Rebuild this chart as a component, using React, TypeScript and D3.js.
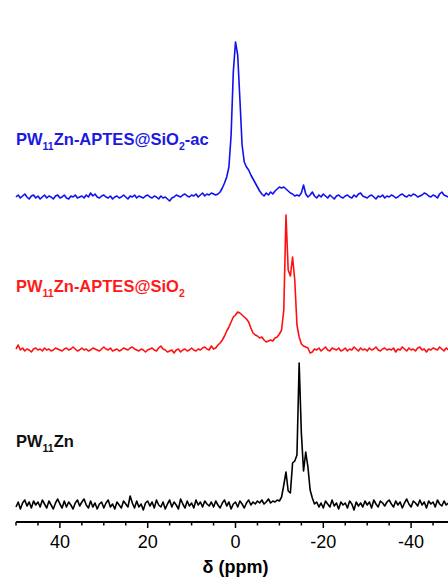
import React from "react";
import * as d3 from "d3";

// Chemical shift grid: spectra sampled every 0.5 ppm from 50 to -50 ppm
const ppmStart = 50;
const ppmStep = -0.5;

// Intensities (arbitrary units)
const blueIntensity = [
  0, 2, -1, 1, 3, 0, -2, 1, 2, -1,
  1, -2, 0, 2, -1, 1, 0, -2, 1, 2,
  -1, 0, 2, -1, -2, 1, 0, 2, -1, 0,
  1, -1, 2, 0, 4, 1, 3, 0, -1, 1,
  2, 0, -1, 1, -2, 0, 1, -1, 0, 2,
  0, -2, 1, 0, 2, -1, 1, 0, -1, 1,
  2, 0, -1, 1, 0, -2, 1, -1, 0, -2,
  -4, -1, 0, 2, 1, 0, 2, 3, 1, 0,
  2, 1, 3, 0, 2, 4, 1, 3, 2, 4,
  3, 2, 3, 5, 9, 14, 20, 30, 62, 125,
  155, 142, 98, 52, 35, 30, 27, 22, 18, 14,
  10, 6, 3, 1, 4, 2, 5, 3, 6, 8,
  10, 9, 10, 8, 6, 4, 3, 1, 2, 1,
  4, 12, 3, 0, 2, 5, 1, -1, 2, 0,
  3, 1, -1, 2, 0, -2, 1, 2, 0, -1,
  1, 2, 0, -1, 2, 0, 3, 4, 1, 0,
  -1, 1, 2, 0, -2, 1, 0, 2, -1, 1,
  0, 2, 1, -1, 0, 2, 3, 1, 0, 2,
  1, 3, 2, 0, 1, 2, 4, 3, 1, 0,
  2, 1, -1, 3, 5, 2, 1, 0, 2, 1,
  0,
];

const redIntensity = [
  1, 5, 0, 2, -1, 1, 0, -2, 1, 2,
  0, 1, -1, 2, 0, 1, -1, 0, 2, 1,
  0, -1, 1, 2, 0, 1, 3, 1, -1, 0,
  2, 0, 1, -1, 0, 2, 1, 0, -1, 1,
  3, 1, 0, 2, -1, 0, 1, -1, 0, 2,
  1, 0, 2, 3, 1, 0, -1, 1, 0, -2,
  0, 1, 2, 0, -1, 2, 4, 1, 0, -2,
  -1, 0, -3, 0, 1, -2, 0, 1, -1, 0,
  2, 0, -1, 1, 0, 2, 3, 1, 0, 4,
  1, 2, 5, 7, 10, 14, 19, 23, 28, 33,
  35, 38, 37, 35, 33, 31, 28, 22, 17, 15,
  14, 12, 13, 10, 8, 9, 10, 9, 12, 13,
  16, 20, 40, 135, 80, 74, 93, 70, 25, 13,
  6, 4, 3, 2, -3, -2, 1, 0, 2, -1,
  1, 3, 0, -1, 2, 1, 0, 2, -1, 0,
  2, -1, 1, 0, 3, 1, -1, 2, 0, 1,
  -1, 2, 0, 1, 3, 0, -1, 1, 2, 0,
  1, 0, 2, -2, 1, 0, 3, 1, -1, 2,
  0, 1, -1, 2, 3, 0, 1, -2, 1, 0,
  2, 1, 0, 3, 1, -1, 2, 0, 1, 2,
  1,
];

const blackIntensity = [
  -2, 3, -4, 2, 5, -1, 3, -3, 4, 0,
  3, -2, 5, 1, -3, 4, 0, -4, 2, 6,
  1, -3, 4, -2, 3, 0, -4, 2, 5, -1,
  3, 6, 0, -3, 4, -2, 2, -4, 1, 3,
  -3, 2, 5, -2, 1, -4, 3, 0, -3, 4,
  1, -2, 9, 2, -3, 4, -2, 1, -5, 2,
  4, -1, 3, -3, 5, 0, -2, 3, -4, 1,
  5, -2, 3, 0, -4, 6, 1, -3, 4, -1,
  2, -3, 5, 0, 3, -2, 4, 1, -1, 3,
  -2, 4, 0, -3, 2, 5, -1, 3, -4, 1,
  3, -2, 4, 1, -3, 2, 5, 0, 3, 1,
  4, 2, 5, 1, 3, 6, 2, 4, 3, 5,
  4, 8, 20, 33, 14, 12, 42, 44, 50, 142,
  72, 34, 53, 38, 15, 7, 1, 3, -2, 2,
  -3, 4, 1, -2, 5, -1, 2, -4, 3, 0,
  2, -3, 4, 1, -5, 3, -1, 2, -2, 4,
  0, 3, -3, 5, 1, -2, 4, 2, -1, 3,
  5, 1, -2, 4, 0, 3, -3, 2, 6, 1,
  -2, 4, 2, -1, 5, 0, 3, -3, 4, 1,
  3, -2, 5, 1, -1, 4, 0, 2, -3, 3,
  1,
];

const seriesNames = ["PW11Zn-APTES@SiO2-ac", "PW11Zn-APTES@SiO2", "PW11Zn"];
const seriesOffsets = [308, 155, 0];
const xTicks = [40, 20, 0, -20, -40];
const xMinorTicks = [50, 45, 35, 30, 25, 15, 10, 5, -5, -10, -15, -25, -30, -35, -45, -50];

const W = 448;
const H = 579;

export default function App() {
  const x = d3.scaleLinear().domain([50, -50]).range([16, 455]);
  const y = d3.scaleLinear().domain([0, 480]).range([505, 25]);

  const toPoints = (vals: number[], off: number) =>
    vals.map((v, i) => [ppmStart + i * ppmStep, v + off] as [number, number]);

  const line = d3
    .line<[number, number]>()
    .x((d) => x(d[0]))
    .y((d) => y(d[1]));

  const series = [
    { vals: blueIntensity, color: "#1010f0", text: "#1a1ae0" },
    { vals: redIntensity, color: "#ff1010", text: "#ff1a1a" },
    { vals: blackIntensity, color: "#000000", text: "#111111" },
  ];

  const labelY = [145, 292, 447];
  const font = "'Liberation Sans', Arial, Helvetica, sans-serif";

  const renderLabel = (name: string, i: number) => {
    const color = series[i].text;
    const hasAc = name.endsWith("-ac");
    const hasSi = name.includes("SiO2");
    return (
      <text
        key={name}
        x={16}
        y={labelY[i]}
        fill={color}
        fontFamily={font}
        fontWeight="bold"
        fontSize={16.5}
      >
        PW
        <tspan fontSize={10.5} dy={5}>11</tspan>
        <tspan dy={-5}>Zn{hasSi ? "-APTES@SiO" : ""}</tspan>
        {hasSi && (
          <tspan fontSize={10.5} dy={5}>2</tspan>
        )}
        {hasAc && <tspan dy={-5}>-ac</tspan>}
      </text>
    );
  };

  const axisY = 522;

  return (
    <svg
      width={W}
      height={H}
      style={{ position: "absolute", left: 0, top: 0, background: "#fff" }}
    >
      {series.map((s, i) => (
        <path
          key={i}
          d={line(toPoints(s.vals, seriesOffsets[i])) || ""}
          fill="none"
          stroke={s.color}
          strokeWidth={1.6}
          strokeLinejoin="round"
        />
      ))}
      {seriesNames.map((n, i) => renderLabel(n, i))}
      <line x1={x(50)} x2={x(-50)} y1={axisY} y2={axisY} stroke="#000" strokeWidth={2} />
      {xTicks.map((t) => (
        <g key={t}>
          <line x1={x(t)} x2={x(t)} y1={axisY} y2={axisY + 6} stroke="#000" strokeWidth={1.5} />
          <text
            x={x(t)}
            y={548}
            textAnchor="middle"
            fontFamily={font}
            fontSize={18}
            fill="#000"
          >
            {t}
          </text>
        </g>
      ))}
      {xMinorTicks.map((t) => (
        <line key={t} x1={x(t)} x2={x(t)} y1={axisY} y2={axisY + 3.5} stroke="#000" strokeWidth={1.5} />
      ))}
      <text
        x={x(0)}
        y={573}
        textAnchor="middle"
        fontFamily={font}
        fontWeight="bold"
        fontSize={18}
        fill="#000"
      >
        δ (ppm)
      </text>
    </svg>
  );
}
